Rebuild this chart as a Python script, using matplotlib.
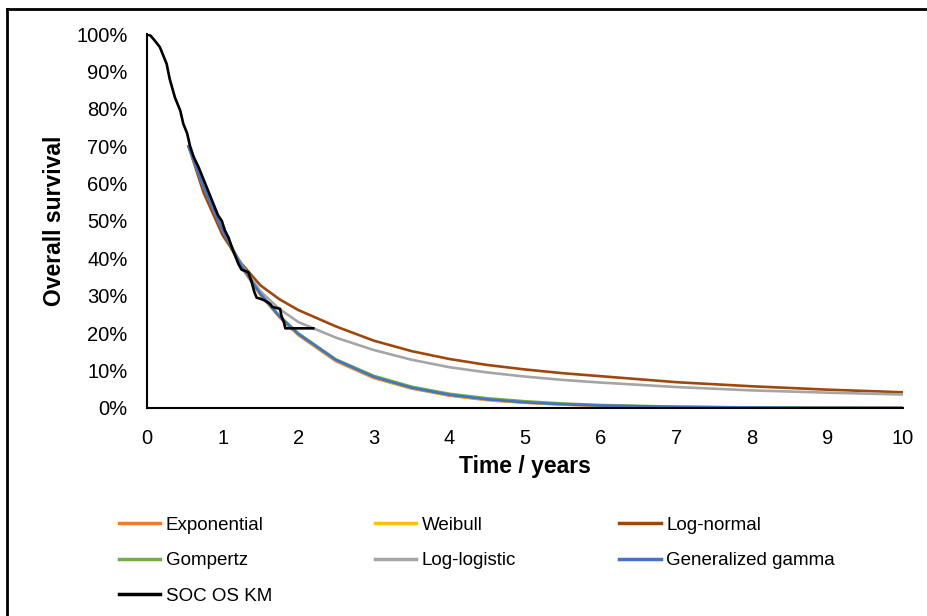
import matplotlib.pyplot as plt
from matplotlib.lines import Line2D

plt.rcParams['font.family'] = ['Liberation Sans', 'DejaVu Sans']

# fitted curves (time in years, survival in %)
t_fit = [0.55, 0.75, 1.0, 1.25, 1.5, 1.75, 2.0, 2.5, 3.0, 3.5, 4.0, 4.5, 5.0, 5.5, 6.0, 7.0, 8.0, 9.0, 10.0]
exponential = [70, 58.6, 47.0, 37.6, 30.2, 24.3, 19.5, 12.5, 8.0, 5.2, 3.3, 2.1, 1.4, 0.9, 0.56, 0.23, 0.1, 0.04, 0.02]
weibull = [70, 59.0, 47.4, 37.9, 30.4, 24.4, 19.7, 12.7, 8.2, 5.3, 3.4, 2.2, 1.45, 0.95, 0.6, 0.26, 0.11, 0.05, 0.02]
lognormal = [70, 57.5, 46.2, 38.6, 32.8, 29.1, 26.2, 21.8, 18.0, 15.2, 13.1, 11.5, 10.3, 9.3, 8.5, 6.9, 5.8, 4.9, 4.2]
gompertz = [70, 59.2, 47.6, 38.1, 30.6, 24.7, 20.0, 13.0, 8.6, 5.7, 3.8, 2.6, 1.8, 1.2, 0.8, 0.35, 0.15, 0.07, 0.03]
loglogistic = [70, 59.0, 47.5, 38.3, 31.2, 26.5, 23.0, 18.8, 15.5, 12.9, 10.9, 9.5, 8.4, 7.5, 6.8, 5.6, 4.7, 4.1, 3.6]
gengamma = [70, 59.0, 47.5, 38.0, 30.5, 24.5, 19.8, 12.8, 8.3, 5.4, 3.5, 2.3, 1.5, 1.0, 0.65, 0.28, 0.12, 0.05, 0.02]

# Kaplan-Meier
t_km = [0, 0.05, 0.1, 0.17, 0.22, 0.26, 0.3, 0.37, 0.44, 0.48, 0.53, 0.57, 0.62, 0.68, 0.74,
        0.79, 0.84, 0.88, 0.94, 0.99, 1.03, 1.08, 1.14, 1.18, 1.21, 1.25, 1.34, 1.38, 1.42,
        1.45, 1.5, 1.55, 1.6, 1.63, 1.66, 1.7, 1.76, 1.78, 1.81, 1.83, 2.2]
km = [100, 99.5, 98.3, 96.5, 94, 92, 88, 83, 79.5, 76, 73.5, 70, 67, 64.5, 61.5,
      59, 56.5, 54.5, 51.5, 50, 47.5, 45.5, 42, 40, 38.5, 37, 36.3, 34, 31,
      29.5, 29.2, 28.8, 28.2, 27.8, 27, 26.8, 26.5, 24.5, 23, 21.3, 21.3]

names = ['Exponential', 'Weibull', 'Log-normal', 'Gompertz', 'Log-logistic', 'Generalized gamma', 'SOC OS KM']
colors = ['#ED7D31', '#FFC000', '#9E480E', '#70AD47', '#A5A5A5', '#4472C4', '#000000']

fig = plt.figure(figsize=(9.28, 6.16), dpi=100)
ax = fig.add_axes([0.1584, 0.3377, 0.8146, 0.6071])

series = [exponential, weibull, lognormal, gompertz, loglogistic, gengamma]
for s, c in zip(series, colors[:6]):
    ax.plot(t_fit, [v / 100 for v in s], color=c, lw=1.9)
ax.plot(t_km, [v / 100 for v in km], color='black', lw=1.9)

ax.set_xlim(0, 10)
ax.set_ylim(0, 1)
ax.set_xticks(range(11))
ax.set_yticks([i / 10 for i in range(11)])
ax.set_yticklabels([f'{i * 10}%' for i in range(11)])
ax.tick_params(length=0, labelsize=14.5)
ax.tick_params(axis='y', pad=14)
ax.tick_params(axis='x', pad=15)
for side in ['top', 'right']:
    ax.spines[side].set_visible(False)
for side in ['left', 'bottom']:
    ax.spines[side].set_color('black')
    ax.spines[side].set_linewidth(1.5)

ax.set_xlabel('Time / years', fontsize=16.5, fontweight='bold', labelpad=5)
ax.set_ylabel('Overall survival', fontsize=16.5, fontweight='bold', labelpad=7)

handles = [Line2D([], [], color=c, lw=2.5) for c in colors]
order = [0, 3, 6, 1, 4, 2, 5]
fig.legend([handles[i] for i in order], [names[i] for i in order], ncol=3,
           loc='upper left', bbox_to_anchor=(0.128, 0.161), frameon=False,
           fontsize=13.5, handlelength=2.2, handletextpad=0.3, columnspacing=5.5,
           labelspacing=0.97, borderaxespad=0, borderpad=0)

# outer border (left and top only)
fig.add_artist(Line2D([7 / 928, 7 / 928], [0, 1 - 9 / 616], color='black', lw=2, transform=fig.transFigure))
fig.add_artist(Line2D([7 / 928, 1], [1 - 9 / 616, 1 - 9 / 616], color='black', lw=2, transform=fig.transFigure))

fig.savefig('out.png', dpi=100)
